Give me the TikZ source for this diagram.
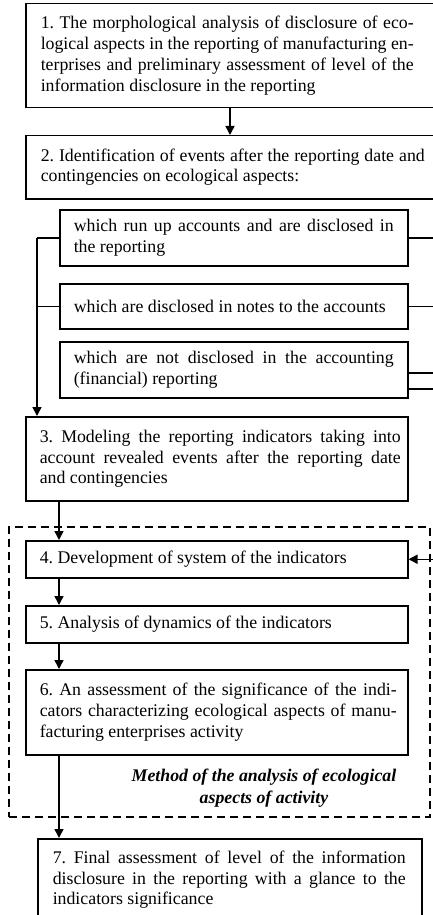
\documentclass[tikz,border=0pt]{standalone}
\usepackage{fontspec}
\setmainfont{Liberation Serif}
\usetikzlibrary{arrows.meta,calc}
\tolerance=10000
\hyphenpenalty=10000
\frenchspacing
\newcommand{\bxt}[4]{\hspace*{#1pt}\parbox{#2pt}{#4}\hspace*{#3pt}}
\tikzset{
  box/.style={draw, line width=1.5pt, inner sep=0pt, anchor=north west,
    font=\fontsize{17.8}{20.8}\selectfont},
  arr/.style={line width=1.5pt, -{Triangle[length=9pt,width=9pt]}},
  conn/.style={line width=1.5pt},
  methodbox/.style={draw, dash pattern=on 8pt off 5pt, line width=1.5pt,
    anchor=north west, inner sep=0pt},
  methodlabel/.style={font=\fontsize{17.8}{22}\selectfont\bfseries\itshape, align=center}
}
\begin{document}
\begin{tikzpicture}[x=1pt,y=-1pt]
\useasboundingbox (0,0) rectangle (433,915);
\clip (0,0) rectangle (433,915);
\coordinate (bus) at (37,0);
\coordinate (redge) at (440,0);

\node[methodbox, minimum width=421pt, minimum height=290pt] (method) at (8,526) {};
\node[methodlabel] (mlabel) at (264,788) {Method of the analysis of ecological\\aspects of activity};

\node[box, minimum width=420pt, minimum height=104pt] (b1) at (25,3)
  {\bxt{15}{373}{32}{1. The morphological analysis of disclosure of eco-\linebreak logical aspects in the reporting of manufacturing en-\linebreak terprises and preliminary assessment of level of the\linebreak information disclosure in the reporting}};
\node[box, minimum width=420pt, minimum height=63pt] (b2) at (25,135)
  {\bxt{15}{384}{21}{2. Identification of events after the reporting date and\linebreak contingencies on ecological aspects:}};
\node[box, minimum width=348pt, minimum height=56pt] (s1) at (59,209)
  {\bxt{14}{320}{14}{which run up accounts and are disclosed in\linebreak the reporting}};
\node[box, minimum width=348pt, minimum height=45pt] (s2) at (59,283)
  {\bxt{14}{320}{14}{which are disclosed in notes to the accounts}};
\node[box, minimum width=348pt, minimum height=56pt] (s3) at (59,341)
  {\bxt{14}{320}{14}{which are not disclosed in the accounting\linebreak (financial) reporting}};
\node[box, minimum width=382pt, minimum height=84pt] (b3) at (25,416)
  {\bxt{14}{361}{7}{3. Modeling the reporting indicators taking into\linebreak account revealed events after the reporting date\linebreak and contingencies}};
\node[box, minimum width=382pt, minimum height=37pt] (b4) at (25,540)
  {\bxt{14}{361}{7}{4. Development of system of the indicators}};
\node[box, minimum width=382pt, minimum height=37pt] (b5) at (25,605)
  {\bxt{14}{361}{7}{5. Analysis of dynamics of the indicators}};
\node[box, minimum width=382pt, minimum height=85pt] (b6) at (25,669)
  {\bxt{14}{357}{11}{6. An assessment of the significance of the indi-\linebreak cators characterizing ecological aspects of manu-\linebreak facturing enterprises activity}};
\node[box, minimum width=384pt, minimum height=82pt] (b7) at (37,838)
  {\bxt{15}{353}{16}{7. Final assessment of level of the information\linebreak disclosure in the reporting with a glance to the\linebreak indicators significance}};

\draw[arr] ([xshift=205pt]b1.south west) -- ([xshift=205pt]b2.north west);

\draw[conn] (s1.west) -- (s1.west -| bus);
\draw[conn] (s2.west) -- (s2.west -| bus);
\draw[arr] (s1.west -| bus) -- (bus |- b3.north);

\draw[conn] (s1.east) -- (s1.east -| redge);
\draw[conn] (s2.east) -- (s2.east -| redge);
\draw[conn] ($(s3.east)+(0,3)$) -- ($(s3.east -| redge)+(0,3)$);
\draw[conn] ($(s3.east)+(0,19)$) -- ($(s3.east -| redge)+(0,19)$);
\draw[arr] (b4.east -| redge) -- (b4.east);

\draw[arr] ([xshift=34pt]b3.south west) -- ([xshift=34pt]b4.north west);
\draw[arr] ([xshift=34pt]b4.south west) -- ([xshift=34pt]b5.north west);
\draw[arr] ([xshift=34pt]b5.south west) -- ([xshift=34pt]b6.north west);
\draw[arr] ([xshift=34pt]b6.south west) -- ([xshift=22pt]b7.north west);
\end{tikzpicture}
\end{document}
